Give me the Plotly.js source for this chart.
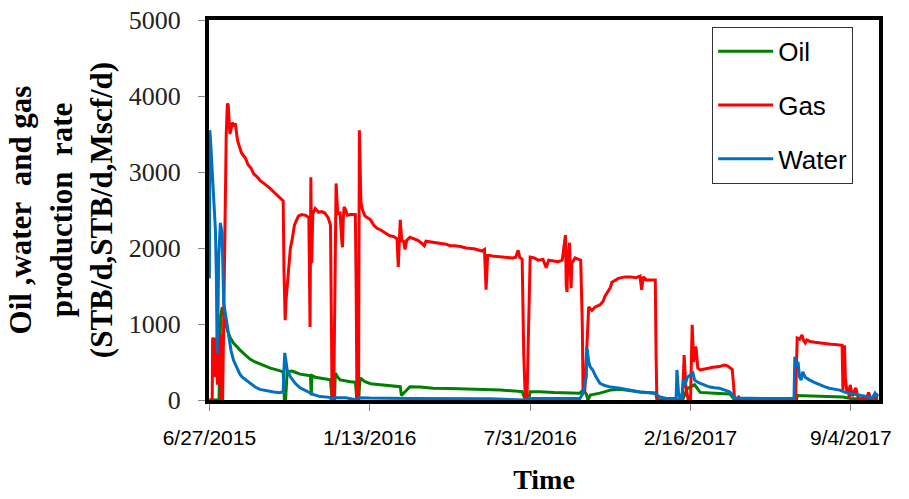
<!DOCTYPE html>
<html>
<head>
<meta charset="utf-8">
<script src="https://cdn.plot.ly/plotly-3.0.1.min.js"></script>
<style>html,body{margin:0;padding:0;background:#fff;}#chart{width:909px;height:499px;}</style>
</head>
<body>
<div id="chart"></div>
<script>
// Days since 6/27/2015
const tickDays = [0, 200, 400, 600, 800];
const tickLabels = ["6/27/2015", "1/13/2016", "7/31/2016", "2/16/2017", "9/4/2017"];

const oilDays = [
  0, 12, 14, 16, 18, 20, 23, 26, 30, 34,
  38, 45, 51, 57, 64, 70, 76, 83, 88, 92,
  93.5, 95, 97, 103, 107, 113, 120, 126, 127, 128,
  132, 138, 145, 151, 153, 156, 157, 160, 163, 170,
  176, 182, 184, 186, 188, 194, 201, 210, 219, 228,
  237, 238, 239.5, 250, 263, 279, 300, 321, 340, 363,
  380, 390, 394, 398, 400, 412, 430, 450, 462, 466,
  470, 472, 475, 487, 500, 512, 525, 537, 556, 559,
  590, 596, 605, 612, 630, 649, 655, 732, 733, 760,
  790, 800, 834];
const oilVals = [
  0, 0, 1100, 1220, 1150, 1010, 900, 820, 750, 700,
  660, 590, 535, 500, 470, 445, 420, 400, 385, 370,
  0, 0, 370, 380, 365, 340, 330, 320, 60, 320,
  300, 290, 280, 265, 0, 0, 355, 300, 265, 250,
  240, 235, 0, 0, 290, 240, 215, 205, 195, 185,
  178, 175, 60, 175, 170, 155, 150, 145, 135, 130,
  120, 110, 0, 0, 110, 110, 100, 95, 90, 130,
  80, 0, 65, 90, 130, 140, 120, 105, 90, 0,
  0, 150, 200, 100, 90, 80, 0, 0, 60, 50,
  40, 20, 15];

const gasDays = [
  0, 3.5, 4, 5, 6, 6.5, 8, 9, 10, 11,
  12, 13, 14, 15, 16.5, 17.4, 19, 21, 22.4, 23.5,
  24.5, 25.5, 27, 28.7, 30.5, 32.4, 34, 35, 37, 40,
  45, 48, 52, 55, 60, 64, 68, 72, 76, 80,
  86, 90, 92, 93, 94.5, 95.5, 97, 99, 101, 103,
  106, 108, 111, 115, 120, 124, 125.5, 126.5, 127.5, 129,
  132, 136, 140, 144, 148, 151, 152, 153, 155, 156,
  158, 160, 163, 165, 166, 167, 168, 170, 172, 176,
  180, 182, 183, 184, 186, 187, 189, 191, 194, 197,
  201, 205, 209, 213, 219, 225, 230, 234, 235.5, 237,
  238, 240, 242, 244, 246, 250, 256, 260, 265, 268,
  270, 276, 282, 288, 295, 300, 306, 313, 320, 330,
  340, 343, 345, 347, 350, 355, 363, 370, 378, 382,
  385, 387, 390, 392, 394, 396, 398, 400, 405, 410,
  416, 420, 423, 428, 435, 440, 444, 445, 446, 447,
  449, 451, 452, 456, 460, 463, 465, 466, 468, 471,
  473, 477, 481, 487, 491, 493, 497, 500, 502, 506,
  510, 518, 525, 532, 537, 539, 541, 545, 550, 556,
  557, 558, 590, 592, 594, 597, 600, 601, 602, 604,
  606, 607, 609, 612, 618, 624, 628, 636, 642, 646,
  652, 654, 655, 660, 662, 731, 732, 733, 736, 739,
  741, 743, 745, 749, 755, 761, 768, 775, 780, 786,
  789, 790, 791, 792, 793, 795, 796, 797, 798, 799,
  802, 806, 809, 812, 816, 819, 822, 824, 828, 833];
const gasVals = [
  0, 0, 800, 820, 300, 800, 780, 820, 200, 850,
  880, 700, 860, 0, 0, 800, 2200, 3500, 3900, 3880,
  3700, 3500, 3560, 3650, 3600, 3640, 3500, 3420, 3350, 3250,
  3180, 3100, 3050, 2980, 2930, 2880, 2850, 2820, 2780, 2740,
  2680, 2640, 2620, 1700, 1050, 1300, 1500, 1800, 2000, 2100,
  2300, 2350, 2420, 2440, 2430, 2400, 960, 2930, 1800, 2450,
  2520, 2470, 2480, 2460, 2400, 2300, 900, 0, 0, 1200,
  2850, 2450, 2460, 2100, 2010, 2400, 2540, 2500, 2430, 2440,
  2440, 2440, 1500, 0, 0, 3550, 2600, 2500, 2420, 2400,
  2370, 2300, 2260, 2240, 2200, 2160, 2150, 2120, 1750, 2150,
  2370, 2080, 2100, 1980, 2100, 2140, 2110, 2100, 2060, 2030,
  2090, 2080, 2070, 2060, 2050, 2030, 2030, 2020, 2000, 1990,
  1960, 1980, 1450, 1900, 1900, 1890, 1880, 1880, 1870, 1880,
  1970, 1880, 1850, 600, 0, 0, 1000, 1880, 1870, 1840,
  1850, 1740, 1840, 1830, 1820, 1840, 2170, 1500, 1420, 1840,
  2070, 1470, 1800, 1870, 1850, 1840, 1000, 90, 100, 700,
  1225, 1180, 1225, 1250, 1300, 1360, 1420, 1480, 1550, 1570,
  1600, 1620, 1620, 1610, 1630, 1450, 1620, 1580, 1580, 1580,
  600, 0, 0, 590, 200, 0, 0, 600, 990, 500,
  700, 680, 420, 395, 410, 420, 430, 440, 460, 450,
  400, 150, 0, 40, 0, 0, 500, 815, 800, 855,
  780, 750, 790, 770, 760, 750, 740, 735, 730, 725,
  720, 130, 400, 720, 300, 100, 170, 60, 25, 200,
  50, 160, 30, 0, 40, 0, 100, 40, 0, 60];

const waterDays = [
  0, 0.5, 1.5, 3.4, 5, 7.5, 8.7, 9.6, 10.5, 11.6,
  13.7, 15.8, 17.8, 20, 22, 24, 27, 30, 34, 38,
  41, 45, 51, 57, 63, 72, 80, 88, 92, 93,
  94, 95, 97, 101, 104, 107, 113, 120, 126, 130,
  138, 150, 153, 156, 170, 184, 187, 200, 250, 300,
  350, 394, 398, 450, 462, 466, 470, 471, 473, 475,
  478, 482, 485, 487, 493, 500, 512, 525, 537, 550,
  556, 559, 562, 570, 582, 583, 585, 587, 589, 591,
  593, 596, 603, 605, 608, 612, 618, 624, 630, 636,
  643, 649, 653, 655, 700, 729, 730, 732, 734, 736,
  738, 740, 743, 748, 755, 761, 767, 773, 780, 786,
  793, 798, 805, 811, 818, 824, 827, 830, 832, 834];
const waterVals = [
  1600, 3550, 3400, 2990, 2630, 2240, 1620, 620, 1000, 1880,
  2330, 2200, 1275, 1150, 1000, 850, 650, 526, 430, 340,
  300, 265, 220, 170, 140, 120, 105, 95, 110, 400,
  620, 550, 395, 305, 260, 220, 160, 120, 90, 70,
  45, 35, 0, 30, 30, 0, 30, 25, 20, 15,
  15, 0, 20, 20, 20, 90, 300, 680, 500, 435,
  395, 305, 260, 220, 190, 170, 155, 130, 105, 95,
  90, 60, 40, 20, 20, 395, 100, 0, 20, 265,
  200, 300, 355, 265, 240, 220, 190, 170, 160, 155,
  130, 105, 60, 25, 20, 20, 570, 440, 500, 300,
  265, 370, 300, 265, 230, 200, 175, 155, 140, 130,
  100, 90, 75, 65, 55, 40, 30, 90, 60, 80];

const traces = [
  {x: oilDays, y: oilVals, name: "Oil", type: "scatter", mode: "lines",
   line: {color: "#008000", width: 3}, legendgroup: "a"},
  {x: gasDays, y: gasVals, name: "Gas", type: "scatter", mode: "lines",
   line: {color: "#FF0000", width: 3}, legendgroup: "b"},
  {x: waterDays, y: waterVals, name: "Water", type: "scatter", mode: "lines",
   line: {color: "#0070C0", width: 3}, legendgroup: "c"}
];

const layout = {
  width: 909, height: 499,
  margin: {l: 209, r: 30, t: 20, b: 99},
  paper_bgcolor: "#ffffff", plot_bgcolor: "#ffffff",
  showlegend: true,
  legend: {
    x: 0.751, y: 0.982, xanchor: "left", yanchor: "top",
    bgcolor: "#ffffff", bordercolor: "#333333", borderwidth: 1,
    font: {family: "Liberation Sans, Arial, sans-serif", size: 26, color: "#000"},
    tracegroupgap: 17, traceorder: "grouped", itemwidth: 55
  },
  xaxis: {
    range: [-0.5, 835], tickmode: "array", tickvals: tickDays, ticktext: tickLabels,
    showgrid: false, zeroline: false,
    showline: true, linecolor: "#000", linewidth: 4, mirror: true,
    ticks: "outside", ticklen: 7, tickcolor: "#888", tickwidth: 1,
    ticklabelstandoff: 9,
    tickfont: {family: "Liberation Sans, Arial, sans-serif", size: 21, color: "#000"},
    title: {text: "Time", standoff: 22, font: {family: "Liberation Serif, Times New Roman, serif", size: 28, color: "#000", weight: "bold"}}
  },
  yaxis: {
    range: [0, 5000], tickmode: "array", tickvals: [0, 1000, 2000, 3000, 4000, 5000],
    showgrid: false, zeroline: false,
    showline: true, linecolor: "#000", linewidth: 4, mirror: true,
    ticks: "outside", ticklen: 7, tickcolor: "#888", tickwidth: 1,
    ticklabelstandoff: 12,
    tickfont: {family: "Liberation Serif, Times New Roman, serif", size: 26, color: "#222"},
    title: {text: "Oil ,water&nbsp; and gas<br>production&nbsp; rate<br>(STB/d,STB/d,Mscf/d)", standoff: 8,
            font: {family: "Liberation Serif, Times New Roman, serif", size: 31, color: "#000", weight: "bold"}}
  }
};

Plotly.newPlot("chart", traces, layout, {displayModeBar: false, staticPlot: true});
</script>
</body>
</html>
